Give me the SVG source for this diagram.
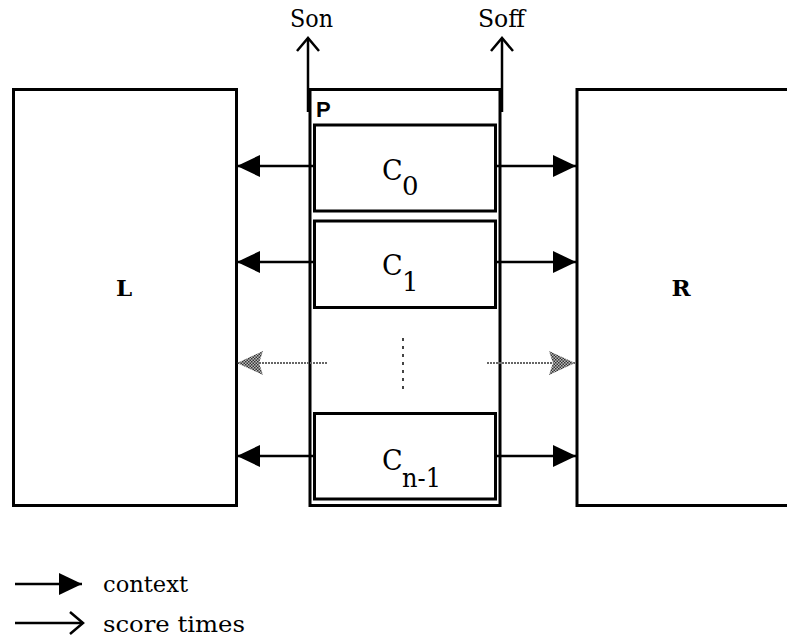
<svg xmlns="http://www.w3.org/2000/svg" width="787" height="640" viewBox="0 0 787 640">
<style>
.box{fill:#fff;stroke:#000;stroke-width:3}
.ln{stroke:#000;stroke-width:2.5;fill:none}
.gl{stroke:#666;stroke-width:2;stroke-dasharray:2,1;fill:none}
.serif{font-family:"DejaVu Serif","Liberation Serif",serif;fill:#000}
.big{font-family:"DejaVu Serif","Liberation Serif",serif;font-weight:bold;font-size:23px}
</style>
<defs>
<pattern id="chk" width="3" height="3" patternUnits="userSpaceOnUse">
<rect width="3" height="3" fill="#bbb"/>
<rect width="1.5" height="1.5" fill="#333"/>
<rect x="1.5" y="1.5" width="1.5" height="1.5" fill="#333"/>
</pattern>
<marker id="fill" markerWidth="24" markerHeight="24" refX="23" refY="12" orient="auto" markerUnits="userSpaceOnUse">
<path d="M0,1 L23,12 L0,23 Z" fill="#000"/>
</marker>
<marker id="gray" markerWidth="28" markerHeight="26" refX="26" refY="13" orient="auto" markerUnits="userSpaceOnUse">
<path d="M0,1 L26,13 L0,25 L4,13 Z" fill="url(#chk)"/>
</marker>
<marker id="open" markerWidth="16" markerHeight="26" refX="14" refY="12" orient="auto" markerUnits="userSpaceOnUse">
<path d="M1,1 L14,12 L1,23" fill="none" stroke="#000" stroke-width="2.5"/>
</marker>
</defs>
<rect width="787" height="640" fill="#fff"/>
<g id="L"><rect class="box" x="13.5" y="89.5" width="223" height="416"/><text class="big" x="124" y="296" text-anchor="middle">L</text></g>
<g id="R"><rect class="box" x="577" y="89.5" width="230" height="416"/><text class="big" x="681" y="296" text-anchor="middle">R</text></g>
<g id="P"><rect class="box" x="310" y="89.5" width="190" height="416"/><text x="316" y="117" font-family="Liberation Sans,Arial,sans-serif" font-weight="bold" font-size="22">P</text></g>
<g id="C0"><rect class="box" x="314.5" y="125" width="181" height="86"/><text class="serif" font-size="27" x="382" y="180">C</text><text class="serif" font-size="26" x="402" y="195">0</text></g>
<g id="C1"><rect class="box" x="314.5" y="221" width="181" height="86.5"/><text class="serif" font-size="27" x="382" y="275">C</text><text class="serif" font-size="26" x="402" y="291">1</text></g>
<g id="Cn1"><rect class="box" x="314.5" y="413.5" width="181" height="85.5"/><text class="serif" font-size="27" x="382" y="470">C</text><text class="serif" font-size="26" x="402" y="487" textLength="39" lengthAdjust="spacingAndGlyphs">n-1</text></g>
<g id="connectors">
<line class="ln" x1="314" y1="166" x2="237" y2="166" marker-end="url(#fill)"/>
<line class="ln" x1="314" y1="262" x2="237" y2="262" marker-end="url(#fill)"/>
<line class="ln" x1="314" y1="456" x2="237" y2="456" marker-end="url(#fill)"/>
<line class="ln" x1="496" y1="166" x2="576" y2="166" marker-end="url(#fill)"/>
<line class="ln" x1="496" y1="262" x2="576" y2="262" marker-end="url(#fill)"/>
<line class="ln" x1="496" y1="456" x2="576" y2="456" marker-end="url(#fill)"/>
<line class="gl" x1="327" y1="363" x2="237" y2="363" marker-end="url(#gray)"/>
<line class="gl" x1="487" y1="363" x2="575" y2="363" marker-end="url(#gray)"/>
<line x1="403" y1="338" x2="403" y2="389" stroke="#444" stroke-width="2" stroke-dasharray="3,5"/>
<line class="ln" x1="308" y1="112" x2="308" y2="38" marker-end="url(#open)"/>
<line class="ln" x1="502" y1="112" x2="502" y2="38" marker-end="url(#open)"/>
</g>
<text class="serif" font-size="24" x="290" y="27" textLength="43" lengthAdjust="spacingAndGlyphs">Son</text>
<text class="serif" font-size="24" x="478" y="27" textLength="47" lengthAdjust="spacingAndGlyphs">Soff</text>
<g id="legend">
<line class="ln" x1="15" y1="584" x2="82" y2="584" marker-end="url(#fill)"/>
<line class="ln" x1="15" y1="623" x2="83" y2="623" marker-end="url(#open)"/>
<text class="serif" font-size="23" x="103" y="592" textLength="85" lengthAdjust="spacingAndGlyphs">context</text>
<text class="serif" font-size="23" x="103" y="632" textLength="142" lengthAdjust="spacingAndGlyphs">score times</text>
</g>
</svg>
